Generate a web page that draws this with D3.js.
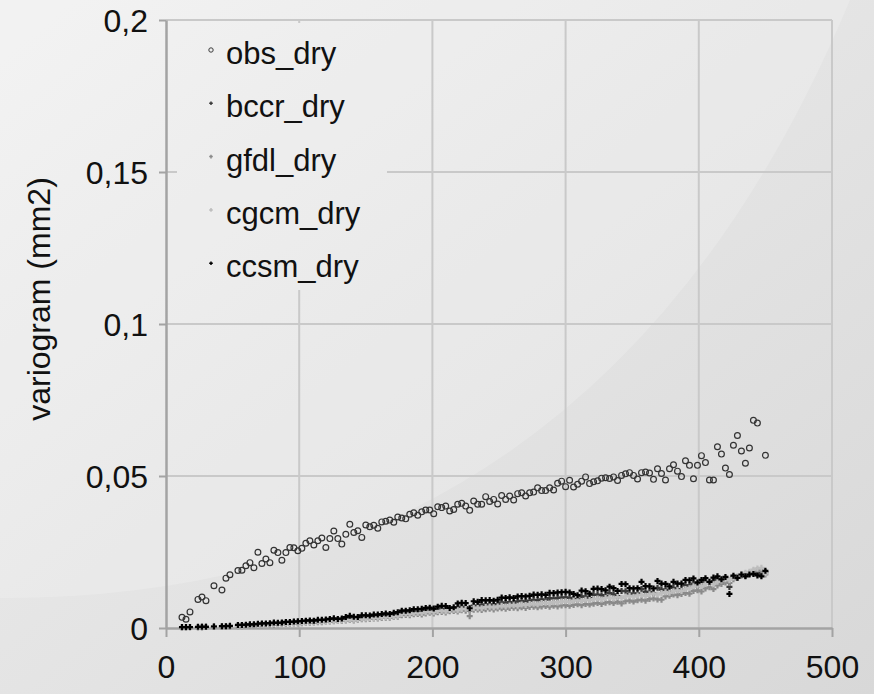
<!DOCTYPE html>
<html><head><meta charset="utf-8">
<script src="https://cdn.jsdelivr.net/npm/d3@7"></script>
<style>body{margin:0;background:#e4e4e4}svg{display:block}</style>
</head><body>
<svg id="c" width="874" height="694"></svg>
<script>
// ---- data ----
const lags = [12,15,18,24,27,30,36,42,45,48,
 54,57,60,63,66,69,72,75,78,81, 84,87,90,93,96,99,102,105,108,111,
 114,117,120,123,126,129,132,135,138,141, 144,147,150,153,156,159,162,165,168,171,
 174,177,180,183,186,189,192,195,198,201, 204,207,210,213,216,219,222,225,228,231,
 234,237,240,243,246,249,252,255,258,261, 264,267,270,273,276,279,282,285,288,291,
 294,297,300,303,306,309,312,315,318,321, 324,327,330,333,336,339,342,345,348,351,
 354,357,360,363,366,369,372,375,378,381, 384,387,390,393,396,399,402,405,408,411,
 414,417,420,423,426,429,432,435,438,441, 444,447,450];

const obs_dry = [.0035,.0029,.0053,.0094,.0102,.0090,.0139,.0125,.0164,.0175,
 .0189,.0190,.0205,.0215,.0198,.0249,.0212,.0227,.0215,.0256, .0248,.0223,.0248,.0265,.0264,.0254,.0262,.0279,.0287,.0273,
 .0287,.0296,.0265,.0294,.0319,.0294,.0276,.0308,.0341,.0314, .0320,.0298,.0339,.0333,.0338,.0328,.0349,.0351,.0355,.0348,
 .0365,.0362,.0359,.0374,.0379,.0371,.0382,.0388,.0388,.0376, .0399,.0396,.0401,.0385,.0390,.0407,.0410,.0401,.0387,.0418,
 .0407,.0407,.0432,.0416,.0423,.0408,.0436,.0423,.0434,.0421, .0442,.0445,.0434,.0445,.0447,.0461,.0452,.0452,.0461,.0454,
 .0476,.0483,.0465,.0486,.0464,.0473,.0483,.0497,.0475,.0481, .0484,.0493,.0494,.0492,.0497,.0485,.0502,.0507,.0511,.0502,
 .0490,.0511,.0513,.0510,.0489,.0524,.0508,.0487,.0524,.0537, .0516,.0498,.0550,.0535,.0491,.0535,.0567,.0544,.0487,.0487,
 .0596,.0572,.0526,.0505,.0601,.0633,.0582,.0542,.0592,.0683, .0674,null,.0568];

const bccr_dry = [.0002,.0002,.0003,.0003,.0004,.0004,.0005,.0005,.0006,.0006,
 .0008,.0008,.0009,.0010,.0010,.0011,.0012,.0013,.0013,.0015, .0015,.0016,.0017,.0017,.0018,.0019,.0020,.0021,.0021,.0022,
 .0023,.0024,.0025,.0026,.0027,.0027,.0028,.0031,.0033,.0032, .0033,.0036,.0036,.0036,.0038,.0039,.0040,.0042,.0041,.0044,
 .0045,.0050,.0051,.0050,.0054,.0054,.0053,.0057,.0059,.0056, .0061,.0063,.0061,.0060,.0062,.0068,.0070,.0069,.0058,.0074,
 .0073,.0077,.0077,.0078,.0076,.0079,.0084,.0083,.0085,.0083, .0088,.0089,.0087,.0090,.0093,.0092,.0094,.0093,.0098,.0097,
 .0099,.0100,.0101,.0099,.0096,.0094,.0104,.0103,.0098,.0109, .0110,.0108,.0106,.0115,.0111,.0105,.0122,.0121,.0113,.0113,
 .0114,.0128,.0119,.0119,.0114,.0132,.0126,.0126,.0120,.0132, .0128,.0128,.0140,.0140,.0146,.0138,.0146,.0152,.0145,.0155,
 .0160,.0155,.0162,.0135,.0168,.0165,.0174,.0172,.0178,.0182, .0180,.0182,.0184];

const gfdl_dry = [.0001,.0001,.0002,.0002,.0002,.0003,.0003,.0004,.0004,.0005,
 .0006,.0006,.0007,.0007,.0008,.0009,.0009,.0010,.0011,.0011, .0012,.0013,.0013,.0014,.0015,.0015,.0016,.0017,.0017,.0018,
 .0019,.0019,.0021,.0021,.0022,.0023,.0023,.0025,.0026,.0025, .0027,.0029,.0029,.0030,.0031,.0031,.0033,.0034,.0034,.0036,
 .0037,.0042,.0043,.0042,.0045,.0046,.0044,.0048,.0050,.0048, .0052,.0053,.0051,.0055,.0056,.0054,.0058,.0057,.0039,.0060,
 .0061,.0059,.0062,.0063,.0061,.0064,.0065,.0063,.0066,.0067, .0065,.0068,.0066,.0069,.0070,.0068,.0071,.0072,.0070,.0073,
 .0071,.0074,.0075,.0073,.0076,.0078,.0075,.0079,.0077,.0080, .0082,.0079,.0083,.0085,.0082,.0086,.0081,.0088,.0090,.0087,
 .0091,.0093,.0090,.0095,.0097,.0094,.0093,.0104,.0106,.0110, .0108,.0112,.0115,.0113,.0122,.0124,.0120,.0130,.0134,.0128,
 .0140,.0145,.0150,.0148,.0160,.0165,.0172,.0178,.0180,.0185, .0190,.0188,.0176];

const cgcm_dry = [.0002,.0002,.0002,.0003,.0003,.0003,.0004,.0005,.0005,.0006,
 .0007,.0007,.0008,.0009,.0009,.0010,.0011,.0011,.0012,.0013, .0013,.0014,.0015,.0015,.0016,.0017,.0018,.0018,.0019,.0020,
 .0021,.0021,.0022,.0023,.0024,.0024,.0025,.0027,.0028,.0027, .0029,.0031,.0031,.0032,.0033,.0034,.0035,.0036,.0037,.0038,
 .0040,.0046,.0047,.0046,.0049,.0050,.0049,.0052,.0054,.0052, .0056,.0057,.0055,.0059,.0060,.0058,.0062,.0063,.0060,.0066,
 .0067,.0065,.0069,.0070,.0068,.0071,.0073,.0071,.0074,.0075, .0073,.0077,.0076,.0079,.0080,.0078,.0082,.0083,.0081,.0085,
 .0084,.0087,.0088,.0086,.0090,.0091,.0089,.0093,.0092,.0095, .0097,.0094,.0099,.0100,.0097,.0102,.0099,.0104,.0106,.0103,
 .0107,.0109,.0106,.0111,.0113,.0110,.0115,.0118,.0116,.0121, .0124,.0122,.0128,.0131,.0137,.0140,.0138,.0145,.0148,.0144,
 .0152,.0156,.0160,.0158,.0166,.0170,.0176,.0182,.0185,.0192, .0196,.0198,.0180];

const ccsm_dry = [.0003,.0003,.0003,.0004,.0004,.0004,.0005,.0006,.0006,.0007,
 .0010,.0010,.0011,.0012,.0012,.0014,.0015,.0015,.0016,.0018, .0017,.0018,.0020,.0020,.0021,.0022,.0023,.0024,.0025,.0024,
 .0027,.0027,.0028,.0030,.0032,.0030,.0031,.0036,.0040,.0037, .0036,.0042,.0042,.0041,.0044,.0044,.0046,.0048,.0046,.0050,
 .0052,.0057,.0057,.0058,.0062,.0062,.0063,.0066,.0067,.0064, .0070,.0073,.0072,.0066,.0068,.0081,.0083,.0082,.0065,.0088,
 .0086,.0092,.0091,.0092,.0090,.0093,.0100,.0099,.0101,.0099, .0104,.0105,.0104,.0106,.0110,.0109,.0111,.0109,.0116,.0115,
 .0117,.0118,.0119,.0117,.0112,.0108,.0123,.0121,.0113,.0129, .0130,.0128,.0124,.0136,.0131,.0122,.0145,.0144,.0131,.0130,
 .0131,.0152,.0138,.0137,.0130,.0155,.0146,.0145,.0137,.0152, .0146,.0146,.0158,.0157,.0163,.0150,.0158,.0164,.0152,.0166,
 .0170,.0160,.0168,.0112,.0172,.0165,.0176,.0170,.0176,.0178, .0173,.0170,.0188];

const seriesNames = ["obs_dry","bccr_dry","gfdl_dry","cgcm_dry","ccsm_dry"];
const xTicks = [0,100,200,300,400,500];
const xTickLabels = ["0","100","200","300","400","500"];
const yTicks = [0,0.05,0.1,0.15,0.2];
const yTickLabels = ["0","0,05","0,1","0,15","0,2"];
const yTitle = "variogram (mm2)";

// ---- drawing ----
const svg = d3.select("#c");
const W = 874, H = 694;
const plot = {l:166, r:832, t:20, b:628};
const x = d3.scaleLinear().domain([0,500]).range([plot.l, plot.r]);
const y = d3.scaleLinear().domain([0,0.2]).range([plot.b, plot.t]);
const font = "'Liberation Sans', Arial, sans-serif";

const defs = svg.append("defs");
const bg = defs.append("linearGradient").attr("id","bg").attr("x1","0").attr("y1","0").attr("x2","1").attr("y2","1");
bg.append("stop").attr("offset","0").attr("stop-color","#f0f0f0");
bg.append("stop").attr("offset","0.55").attr("stop-color","#e3e3e3");
bg.append("stop").attr("offset","1").attr("stop-color","#d8d8d8");
const mask = defs.append("mask").attr("id","legmask");
mask.append("rect").attr("width",W).attr("height",H).attr("fill","#fff");
mask.append("rect").attr("x",177).attr("y",23).attr("width",210).attr("height",267).attr("fill","#000");

svg.append("rect").attr("width",W).attr("height",H).attr("fill","url(#bg)");
svg.append("path").attr("d","M0,0 L850,0 Q600,600 0,598 Z").attr("fill","#fff").attr("opacity",0.18);

// gridlines
const grid = svg.append("g").attr("mask","url(#legmask)");
grid.selectAll(".vg").data(xTicks.filter(d=>d>0)).join("line")
  .attr("x1",d=>x(d)).attr("x2",d=>x(d)).attr("y1",plot.t).attr("y2",plot.b)
  .attr("stroke","#c9c9c9").attr("stroke-width",2);
grid.selectAll(".hg").data(yTicks.filter(d=>d>0)).join("line")
  .attr("x1",plot.l).attr("x2",plot.r).attr("y1",d=>y(d)).attr("y2",d=>y(d))
  .attr("stroke","#c9c9c9").attr("stroke-width",2);

// axes
const xAxis = svg.append("g").attr("transform",`translate(0,${plot.b})`)
  .call(d3.axisBottom(x).tickValues(xTicks).tickFormat((d,i)=>xTickLabels[i]).tickSize(9).tickPadding(18).tickSizeOuter(0));
const yAxis = svg.append("g").attr("transform",`translate(${plot.l},0)`)
  .call(d3.axisLeft(y).tickValues(yTicks).tickFormat((d,i)=>yTickLabels[i]).tickSize(7).tickPadding(11).tickSizeOuter(0));
[xAxis,yAxis].forEach(a=>{
  a.select(".domain").attr("stroke","#a3a3a3").attr("stroke-width",2.5);
  a.selectAll(".tick line").attr("stroke","#a3a3a3").attr("stroke-width",2);
  a.selectAll("text").attr("fill","#111").style("font-family",font).style("font-size","32px");
});
yAxis.selectAll(".tick text").attr("dy","0.36em");
xAxis.selectAll(".tick text").attr("dy","0.71em");

svg.append("text").attr("transform",`translate(50,${(plot.t+plot.b)/2 - 25}) rotate(-90)`)
  .attr("text-anchor","middle").attr("fill","#111")
  .style("font-family",font).style("font-size","32px").text(yTitle);

// data
function pts(vals){ return lags.map((l,i)=>({x:l,y:vals[i]})).filter(d=>d.y!=null); }
const plusPath = "M-3,0H3M0,-3V3";
const styles = {
  bccr_dry:{c:"#3a3a3a"}, gfdl_dry:{c:"#8a8a8a"}, cgcm_dry:{c:"#bdbdbd"}, ccsm_dry:{c:"#000"}
};
const seriesVals = {obs_dry, bccr_dry, gfdl_dry, cgcm_dry, ccsm_dry};

svg.append("g").selectAll("circle").data(pts(obs_dry)).join("circle")
  .attr("cx",d=>x(d.x)).attr("cy",d=>y(d.y)).attr("r",2.9)
  .attr("fill","none").attr("stroke","#333").attr("stroke-width",1.2);

["bccr_dry","gfdl_dry","cgcm_dry","ccsm_dry"].forEach(name=>{
  svg.append("g").selectAll("path").data(pts(seriesVals[name])).join("path")
    .attr("transform",d=>`translate(${x(d.x)},${y(d.y)})`)
    .attr("d",plusPath).attr("stroke",styles[name].c).attr("stroke-width",2.2);
});

// legend
const leg = svg.append("g");
seriesNames.forEach((name,i)=>{
  const cy = 50 + i*53.3;
  if(name==="obs_dry"){
    leg.append("circle").attr("cx",211).attr("cy",cy).attr("r",2.2)
      .attr("fill","none").attr("stroke","#3c3c3c").attr("stroke-width",1);
  } else {
    leg.append("path").attr("transform",`translate(211,${cy})`).attr("d","M-1.8,0H1.8M0,-1.8V1.8")
      .attr("stroke",styles[name].c).attr("stroke-width",1.5);
  }
  leg.append("text").attr("x",226).attr("y",cy+14).attr("fill","#111")
    .style("font-family",font).style("font-size","31px").text(name);
});
</script>
</body></html>
